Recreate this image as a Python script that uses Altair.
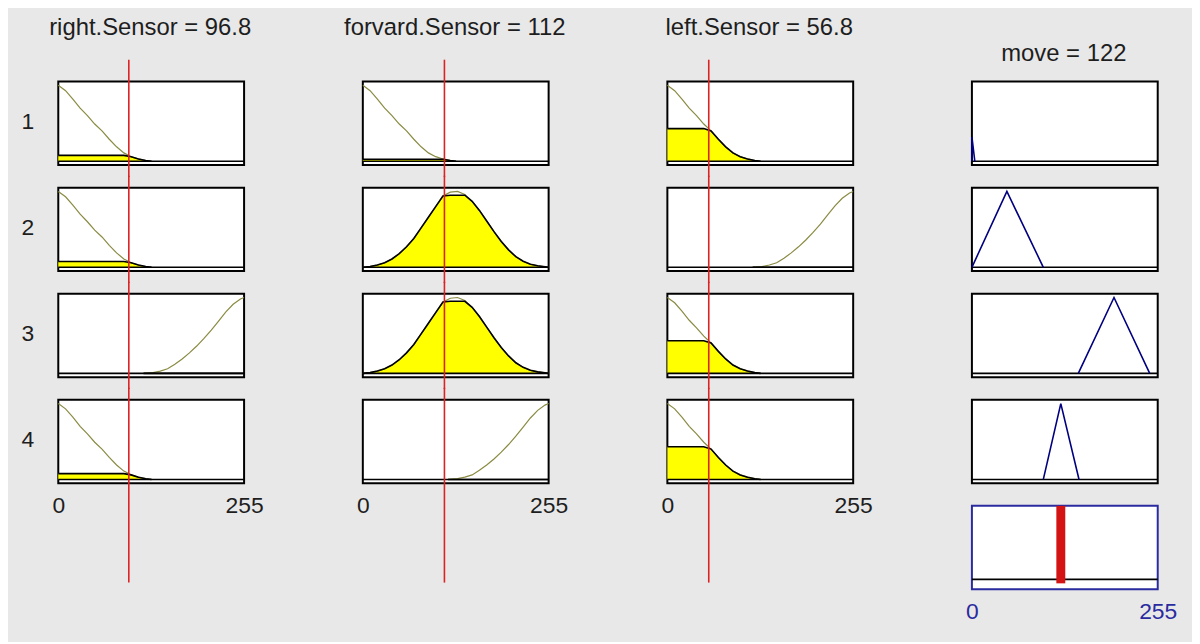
import altair as alt
import pandas as pd

FONT = "Liberation Sans"

# ---------------- data ----------------
input_names = ["right.Sensor", "forvard.Sensor", "left.Sensor"]
input_values = [96.8, 112, 56.8]
output_name = "move"
output_value = 122
row_labels = ["1", "2", "3", "4"]
tick_values = [0, 255]

# membership-function shapes (x on 0..255, membership 0..1)
low_x = [0, 10, 20, 30, 40, 50, 60, 70, 80, 90, 100, 110, 120, 128]
low_mu = [1.0, 0.93, 0.82, 0.70, 0.60, 0.49, 0.40, 0.29, 0.19, 0.11, 0.06, 0.03, 0.01, 0.0]
mid_x = [0, 10, 20, 30, 40, 50, 60, 70, 80, 90, 100, 110, 120, 130, 140, 150, 160,
         170, 180, 190, 200, 210, 220, 230, 240, 255]
mid_mu = [0.0, 0.01, 0.03, 0.06, 0.11, 0.18, 0.27, 0.38, 0.52, 0.66, 0.80, 0.94, 0.99,
          1.0, 0.96, 0.87, 0.75, 0.61, 0.47, 0.34, 0.23, 0.14, 0.08, 0.04, 0.02, 0.0]
high_x = [117, 130, 140, 150, 160, 170, 180, 190, 200, 210, 220, 230, 240, 250, 255]
high_mu = [0.0, 0.01, 0.03, 0.06, 0.12, 0.19, 0.27, 0.36, 0.46, 0.57, 0.69, 0.81, 0.91, 0.98, 1.0]

# shape used by each rule (rows 1..4) for each input
right_mf = ["low", "low", "high", "low"]
forvard_mf = ["low", "mid", "mid", "high"]
left_mf = ["low", "high", "low", "low"]

# membership of the current input value in each rule's MF
right_level = [0.077, 0.077, 0.0, 0.077]
forvard_level = [0.026, 0.95, 0.95, 0.0]
left_level = [0.43, 0.0, 0.43, 0.43]

# output MFs of the rules (move)
out_x = [[0, 0, 4], [0, 48, 98], [146, 195, 244], [98, 122, 147]]
out_mu = [[0, 0.32, 0], [0, 1, 0], [0, 1, 0], [0, 1, 0]]

# ---------------- styling ----------------
BG = "#e8e8e8"
OLIVE = "#8a8a42"
YELLOW = "#ffff00"
RED = "#dd2222"
BAR_RED = "#d41414"
NAVY = "#000080"
BLUE = "#2b2ba0"
TEXT = "#1e1e1e"
W, H = 187, 84

SHAPES = {"low": (low_x, low_mu), "mid": (mid_x, mid_mu), "high": (high_x, high_mu)}
MF_TABLE = [right_mf, forvard_mf, left_mf]
LEVELS = [right_level, forvard_level, left_level]

XS = alt.Scale(domain=[0, 255], nice=False, zero=False)
YS = alt.Scale(domain=[-0.05, 1.05], nice=False, zero=False)
YS_AGG = alt.Scale(domain=[-0.135, 1.0], nice=False, zero=False)


def x_axis(row, title=None, title_y=-47, color=TEXT, show_labels=False):
    if row == 0 and title is not None:
        return alt.Axis(orient="top", title=title, titleX=W / 2 - 1.5, titleY=title_y,
                        titleAlign="center", titleBaseline="alphabetic", titleAngle=0,
                        titleFont=FONT, titleFontSize=24, titleFontWeight="normal",
                        titleColor=TEXT, labels=False, ticks=False, domain=False, grid=False)
    if show_labels:
        return alt.Axis(values=tick_values, title=None, ticks=False, tickSize=0, domain=False,
                        grid=False, labelFlush=False, labelPadding=11, labelFontSize=23,
                        labelFont=FONT, labelColor=color, labelAngle=0, format="d")
    return None


def y_axis(label):
    if label is None:
        return None
    return alt.Axis(title=label, titleX=-31, titleY=H / 2 - 2, titleAngle=0,
                    titleAlign="center", titleBaseline="middle", titleFont=FONT,
                    titleFontSize=23, titleFontWeight="normal", titleColor=TEXT,
                    labels=False, ticks=False, domain=False, grid=False)


def input_panel(col, row):
    xs, mus = SHAPES[MF_TABLE[col][row]]
    df = pd.DataFrame({"x": xs, "mu": mus})
    df["level"] = LEVELS[col][row]
    title = f"{input_names[col]} = {input_values[col]:g}"
    xa = x_axis(row, title=title if row == 0 else None, show_labels=(row == 3))
    ya = y_axis(row_labels[row] if col == 0 else None)
    X = alt.X("x:Q", scale=XS, axis=xa)

    base = alt.Chart(df).transform_calculate(clip="min(datum.mu, datum.level)")
    fill = base.mark_area(color=YELLOW, opacity=1).encode(
        x=X, y=alt.Y("clip:Q", scale=YS, axis=ya))
    curve = alt.Chart(df).mark_line(color=OLIVE, strokeWidth=1.2).encode(
        x=X, y=alt.Y("mu:Q", scale=YS, axis=ya))
    outline = base.mark_line(color="black", strokeWidth=1.6).encode(
        x=X, y=alt.Y("clip:Q", scale=YS, axis=ya))
    baseline = alt.Chart(pd.DataFrame({"y": [0]})).mark_rule(color="black", strokeWidth=1.6).encode(
        y=alt.Y("y:Q", scale=YS, axis=ya))
    top = -22 if row == 0 else -12
    bot = H + 100 if row == 3 else H + 12
    red = alt.Chart(pd.DataFrame({"v": [input_values[col]]})).mark_rule(
        color=RED, strokeWidth=1.6).encode(
        x=alt.X("v:Q", scale=XS, axis=xa), y=alt.value(top), y2=alt.value(bot))
    return alt.layer(fill, curve, outline, baseline, red).properties(
        width=W, height=H,
        view=alt.ViewBackground(fill="white", stroke="black", strokeWidth=2))


def output_panel(row):
    df = pd.DataFrame({"x": out_x[row], "mu": out_mu[row], "i": list(range(len(out_x[row])))})
    title = f"{output_name} = {output_value:g}"
    xa = x_axis(row, title=title if row == 0 else None, title_y=-21.5)
    X = alt.X("x:Q", scale=XS, axis=xa)
    baseline = alt.Chart(pd.DataFrame({"y": [0]})).mark_rule(color="black", strokeWidth=1.6).encode(
        y=alt.Y("y:Q", scale=YS, axis=None))
    line = alt.Chart(df).mark_line(color=NAVY, strokeWidth=1.6).encode(
        x=X, y=alt.Y("mu:Q", scale=YS, axis=None), order="i:Q")
    return alt.layer(baseline, line).properties(
        width=W, height=H,
        view=alt.ViewBackground(fill="white", stroke="black", strokeWidth=2))


def aggregate_panel():
    xa = x_axis(4, color=BLUE, show_labels=True)
    baseline = alt.Chart(pd.DataFrame({"y": [0]})).mark_rule(color="black", strokeWidth=1.6).encode(
        y=alt.Y("y:Q", scale=YS_AGG, axis=None))
    bar = alt.Chart(pd.DataFrame({"v": [output_value]})).mark_rule(
        color=BAR_RED, strokeWidth=9).encode(
        x=alt.X("v:Q", scale=XS, axis=xa), y=alt.value(0), y2=alt.value(H - 6))
    return alt.layer(baseline, bar).properties(
        width=W, height=H,
        view=alt.ViewBackground(fill="white", stroke=BLUE, strokeWidth=2))


def blank():
    return alt.Chart(pd.DataFrame({"x": [0]})).mark_point(opacity=0).encode(
        x=alt.X("x:Q", axis=None), y=alt.Y("x:Q", axis=None)).properties(
        width=W, height=H,
        view=alt.ViewBackground(fill="transparent", stroke="transparent"))


cells = []
for r in range(4):
    for c in range(3):
        cells.append(input_panel(c, r))
    cells.append(output_panel(r))
cells += [blank(), blank(), blank(), aggregate_panel()]

chart = alt.concat(
    *cells, columns=4, spacing={"row": 22.75, "column": 119.5}, bounds="flush"
).properties(
    padding={"left": 11.6, "top": 5, "right": 14, "bottom": 16},
    background=BG,
).configure(font=FONT).configure_view(stroke="transparent")

chart.save("out.html", embed_options={"renderer": "svg", "actions": False})
